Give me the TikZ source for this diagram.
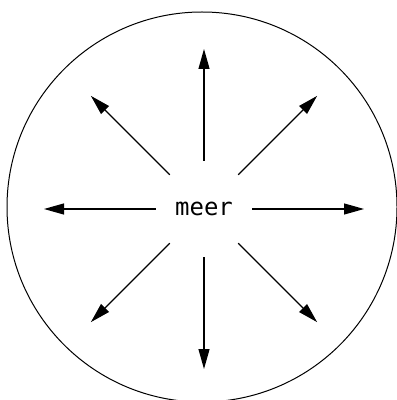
\documentclass[tikz,border=0pt]{standalone}
\usepackage{fontspec}
\setmonofont{DejaVu Sans Mono}
\usetikzlibrary{arrows.meta}

\begin{document}
\begin{tikzpicture}[x=0.5pt, y=-0.5pt, font=\ttfamily\fontsize{12}{14}\selectfont]
  \useasboundingbox (0,0) rectangle (396,400);
  \node[draw, circle, line width=0.5pt, minimum size=195pt, inner sep=0pt] (sea) at (202,207) {};
  \node[circle, minimum size=48pt, inner sep=0pt] (M) at (204,209) {meer};
  \foreach \a in {0,45,...,315} {
    \path (M.center) ++(\a:80pt) coordinate (T\a);
    \draw[line width=0.6pt, -{Triangle[length=10pt, width=5.5pt]}] (M.\a) -- (T\a);
  }
\end{tikzpicture}
\end{document}
